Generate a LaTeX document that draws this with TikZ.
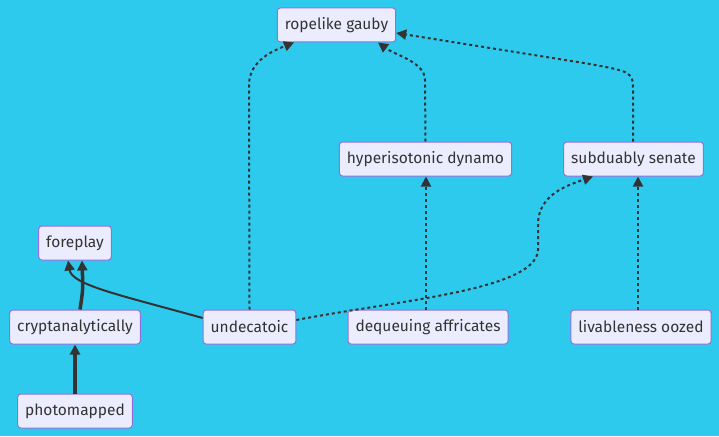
\documentclass[tikz,border=0pt]{standalone}
\usepackage{fontspec}
\setmainfont{Fira Sans}
\usetikzlibrary{arrows.meta}
\definecolor{bgcyan}{RGB}{46,202,238}
\definecolor{boxfill}{RGB}{236,236,255}
\definecolor{boxline}{RGB}{147,112,219}
\definecolor{edgegray}{RGB}{51,51,51}
\tikzset{
  box/.style={draw=boxline, fill=boxfill, line width=1pt, rounded corners=3pt,
    minimum height=34pt, inner xsep=7.5pt, inner ysep=0pt,
    text=edgegray, font=\fontsize{15.5pt}{17pt}\selectfont},
  link/.style={draw=edgegray, line width=2pt, -{Triangle[length=10pt,width=10pt]}},
  strong/.style={link, line width=3.5pt},
  dots/.style={link, dash pattern=on 3pt off 3pt}
}
\begin{document}
\begin{tikzpicture}[x=1pt, y=-1pt, line join=round]
  \fill[bgcyan] (0,0) rectangle (719,436);
  \useasboundingbox (0,0) rectangle (719,436);
  \node[box] (gauby) at (336.5,25) {ropelike gauby};
  \node[box] (dynamo) at (425.5,159) {hyperisotonic dynamo};
  \node[box] (senate) at (633.5,159) {subduably senate};
  \node[box] (foreplay) at (75,243) {foreplay};
  \node[box] (crypt) at (75,327) {cryptanalytically};
  \node[box] (undec) at (249.5,327) {undecatoic};
  \node[box] (deq) at (428,327) {dequeuing affricates};
  \node[box] (oozed) at (641,327) {livableness oozed};
  \node[box] (photo) at (75,411) {photomapped};
  % solid links
  \draw[strong] (photo.north) -- (crypt.south);
  \draw[strong] (crypt.north -| 80,0) .. controls (83,290) .. (foreplay.south -| 82,0);
  \draw[link] (undec.west |- 0,318) .. controls (120,295) and (72,285) .. (foreplay.south -| 68,0);
  % dotted links
  \draw[dots] (undec.north) -- (249,85) .. controls (249,60) and (275,50) .. (gauby.south -| 294,0);
  \draw[dots] (dynamo.north) -- (425,80) .. controls (425,62) and (395,55) .. (gauby.south -| 378,0);
  \draw[dots] (senate.north -| 633,0) -- (633,92) .. controls (633,72) .. (590,64) -- (gauby.east |- 0,33);
  \draw[dots] (deq.north -| 426,0) -- (dynamo.south -| 426,0);
  \draw[dots] (oozed.north -| 638,0) -- (senate.south -| 638,0);
  \draw[dots] (undec.east |- 0,320) .. controls (400,300) and (536,290) .. (538,250) -- (538,222) .. controls (540,195) and (565,186) .. (senate.south -| 593,0);
\end{tikzpicture}
\end{document}
